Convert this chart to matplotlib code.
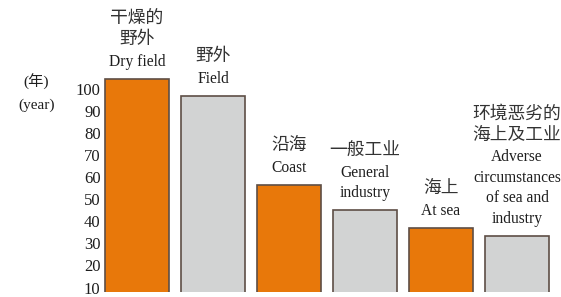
import matplotlib
matplotlib.use("Agg")
import matplotlib.pyplot as plt

plt.rcParams['font.family'] = ['Liberation Serif', 'Noto Sans CJK SC', 'DejaVu Sans']

categories = ["Dry field", "Field", "Coast", "General industry", "At sea", "Adverse"]
values = [104.5, 96.8, 56.6, 44.9, 37.1, 33.5]
label_lines = [
    ["干燥的", "野外", "Dry field"],
    ["野外", "Field"],
    ["沿海", "Coast"],
    ["一般工业", "General", "industry"],
    ["海上", "At sea"],
    ["环境恶劣的", "海上及工业", "Adverse", "circumstances", "of sea and", "industry"],
]
yticks = [10, 20, 30, 40, 50, 60, 70, 80, 90, 100]

orange = "#E8780A"
gray = "#D2D3D3"
colors = [orange, gray, orange, gray, orange, gray]
edge = "#5E4E46"
txt = "#1E1E1E"

W, H = 561, 297
fig = plt.figure(figsize=(W / 100, H / 100), dpi=100)
left_px, right_px, bottom_px = 104, 556, 292
ax = fig.add_axes([left_px / W, (H - bottom_px) / H, (right_px - left_px) / W, bottom_px / H])

x = list(range(len(values)))
ax.bar(x, values, width=0.84, color=colors, edgecolor=edge, linewidth=1.2, bottom=0)
ax.set_xlim(-0.434, 5.513)
ax.set_ylim(8, 140.1)

ax.set_yticks(yticks)
ax.set_yticklabels([str(t) for t in yticks], fontsize=12, color=txt)
ax.tick_params(axis='y', length=0, pad=2.5)
ax.set_xticks([])
for s in ax.spines.values():
    s.set_visible(False)
ax.patch.set_visible(False)

px2pt = 0.72
for i, (v, lines) in enumerate(zip(values, label_lines)):
    n = len(lines)
    for j, line in enumerate(lines):
        off_px = 17 + (n - 1 - j) * 20.5
        is_cjk = any(ord(c) > 0x2E80 for c in line)
        if is_cjk:
            off_px += 1.5
        ax.annotate(line, xy=(i, v), xytext=(0, off_px * px2pt), textcoords='offset points',
                    ha='center', va='center', fontsize=12.8 if is_cjk else 11.2,
                    fontweight='light' if is_cjk else 'normal',
                    color="#333333" if is_cjk else txt, annotation_clip=False)

fig.text(36 / W, 1 - 82 / H, "(年)", ha='center', va='center', fontsize=11, color=txt,
         fontweight='light')
fig.text(37 / W, 1 - 105 / H, "(year)", ha='center', va='center', fontsize=11, color=txt)

fig.savefig("out.png", dpi=100)
